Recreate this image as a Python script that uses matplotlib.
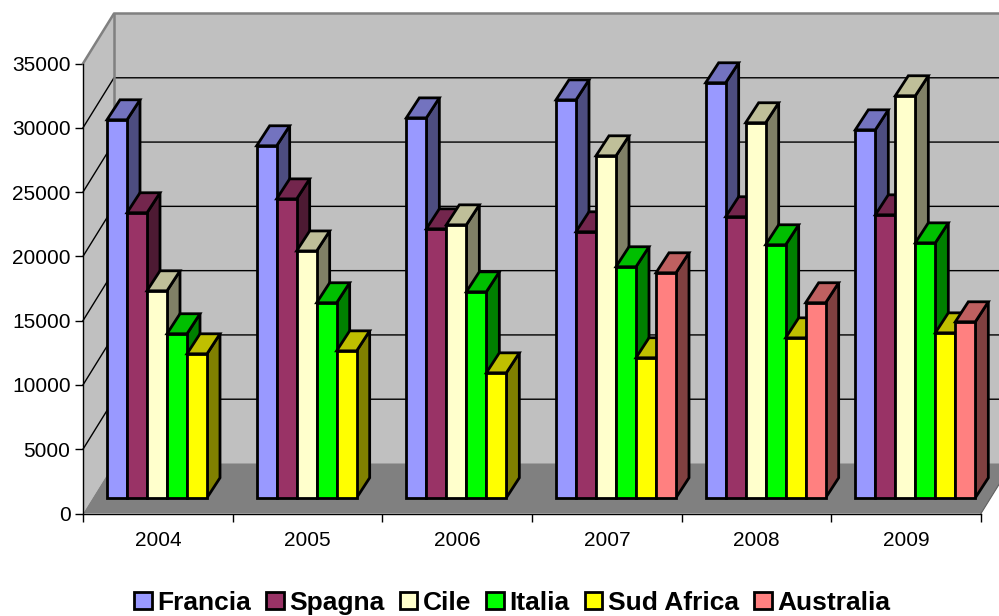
#!/usr/bin/env python3
# -*- coding: utf-8 -*-
import matplotlib
matplotlib.use("Agg")
import matplotlib.pyplot as plt
from matplotlib.patches import Patch, Polygon

plt.rcParams['font.family'] = ['Liberation Sans', 'DejaVu Sans']

years = ['2004', '2005', '2006', '2007', '2008', '2009']
francia = [29400, 27380, 29550, 30950, 32280, 28620]
spagna = [22170, 23250, 20920, 20690, 21860, 22010]
cile = [16100, 19200, 21230, 26600, 29170, 31270]
italia = [12760, 15170, 16020, 17970, 19680, 19830]
sud_africa = [11200, 11430, 9720, 10890, 12440, 12830]
australia = [None, None, None, 17500, 15170, 13690]

names = ['Francia', 'Spagna', 'Cile', 'Italia', 'Sud Africa', 'Australia']
series = [francia, spagna, cile, italia, sud_africa, australia]
front_colors = ['#9999FF', '#993366', '#FFFFCC', '#00FF00', '#FFFF00', '#FF8080']
top_colors = ['#7373BF', '#73264D', '#BFBF99', '#00BF00', '#BFBF00', '#BF6060']
side_colors = ['#4D4D80', '#4D1A33', '#808066', '#008000', '#808000', '#804040']

fig = plt.figure(figsize=(9.99, 6.16), dpi=100)
ax = fig.add_axes([83 / 999, 102.5 / 616, 898 / 999, 450 / 616])
ax.set_xlim(0, 6)
ax.set_ylim(0, 35000)

# one pixel in data units, used for the fake 3d depth
px = 6 / 898
py = 35000 / 450
wall_dx = 31 * px
wall_dy = 50 * py
bar_dx = 13 * px
bar_dy = 20 * py
bar_w = 20 * px
bar_start = 24 * px
bar_base = 15.7 * py

# walls and floor
side_wall = [(0, 0), (wall_dx, wall_dy), (wall_dx, 35000 + wall_dy), (0, 35000)]
back_wall = [(wall_dx, wall_dy), (6 + wall_dx, wall_dy),
             (6 + wall_dx, 35000 + wall_dy), (wall_dx, 35000 + wall_dy)]
floor = [(0, 0), (6, 0), (6 + wall_dx, wall_dy), (wall_dx, wall_dy)]
ax.add_patch(Polygon(back_wall, facecolor='#C0C0C0', edgecolor='none', clip_on=False, zorder=1))
ax.add_patch(Polygon(side_wall, facecolor='#C0C0C0', edgecolor='none', clip_on=False, zorder=1))
ax.add_patch(Polygon(floor, facecolor='#808080', edgecolor='none', clip_on=False, zorder=1))

# gridlines run along the side wall and then across the back wall
for v in range(5000, 35000, 5000):
    ax.plot([0, wall_dx, 6 + wall_dx], [v, v + wall_dy, v + wall_dy],
            color='black', lw=1.0, clip_on=False, zorder=2)

# grey outline of the walls
ax.plot([0, wall_dx, 6 + wall_dx], [35000, 35000 + wall_dy, 35000 + wall_dy],
        color='#808080', lw=1.8, clip_on=False, zorder=2)
ax.plot([wall_dx, wall_dx], [wall_dy, 35000 + wall_dy],
        color='#808080', lw=1.8, clip_on=False, zorder=2)
ax.plot([6, 6 + wall_dx], [0, wall_dy], color='#606060', lw=0.8, clip_on=False, zorder=2)

z = 3
for i in range(len(years)):
    col = 0
    for s in range(len(series)):
        val = series[s][i]
        if val is None:
            continue
        x0 = i + bar_start + col * bar_w
        x1 = x0 + bar_w
        y0 = bar_base
        y1 = bar_base + val
        side = [(x1, y0), (x1 + bar_dx, y0 + bar_dy), (x1 + bar_dx, y1 + bar_dy), (x1, y1)]
        top = [(x0, y1), (x1, y1), (x1 + bar_dx, y1 + bar_dy), (x0 + bar_dx, y1 + bar_dy)]
        ax.add_patch(Polygon(side, facecolor=side_colors[s], edgecolor='black',
                             lw=2.0, joinstyle='miter', clip_on=False, zorder=z))
        ax.add_patch(Polygon(top, facecolor=top_colors[s], edgecolor='black',
                             lw=2.0, joinstyle='miter', clip_on=False, zorder=z))
        ax.bar(x0, val, bar_w, bottom=bar_base, align='edge', color=front_colors[s],
               edgecolor='black', lw=2.0, clip_on=False, zorder=z + 0.5)
        z += 1
        col += 1

for side_name in ['top', 'right']:
    ax.spines[side_name].set_visible(False)
ax.spines['left'].set_linewidth(1.0)
ax.spines['bottom'].set_linewidth(1.0)
ax.spines['left'].set_zorder(2.5)
ax.spines['bottom'].set_zorder(2.5)
ax.patch.set_visible(False)

ax.set_yticks(range(0, 35001, 5000))
ax.set_xticks(range(7))
ax.set_xticklabels([])
ax.set_xticks([i + 0.5 for i in range(6)], minor=True)
ax.set_xticklabels(years, minor=True)
ax.tick_params(axis='y', labelsize=15, length=6, width=1.0, pad=3)
ax.tick_params(axis='x', which='major', length=6, width=1.0)
ax.tick_params(axis='x', which='minor', labelsize=15, length=0, pad=12.7)

handles = [Patch(facecolor=c, edgecolor='black', lw=2.0) for c in front_colors]
fig.legend(handles, names, loc='center', bbox_to_anchor=(512 / 999, 1 - 603 / 616), ncol=6,
           frameon=False, handlelength=0.68, handleheight=0.6, handletextpad=0.2,
           columnspacing=0.57, borderpad=0, prop={'weight': 'bold', 'size': 19})

fig.savefig('out.png', dpi=100)
